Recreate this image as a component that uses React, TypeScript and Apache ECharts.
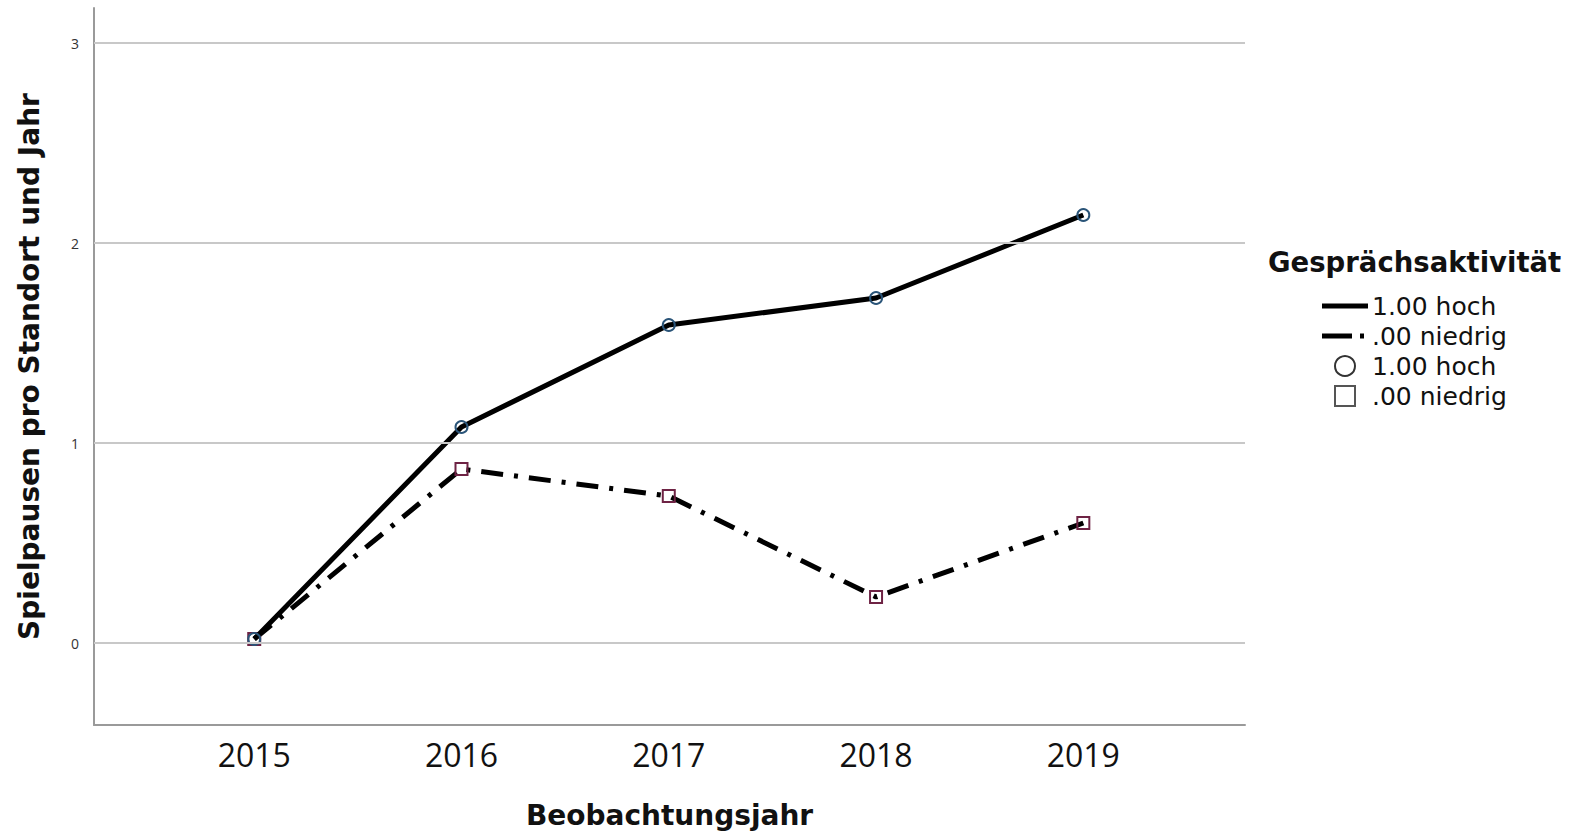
import React, { useEffect, useRef } from "react";
import * as echarts from "echarts";

const years = [2015, 2016, 2017, 2018, 2019];
const hochValues = [0.02, 1.08, 1.59, 1.725, 2.14];
const niedrigValues = [0.02, 0.87, 0.735, 0.23, 0.6];
const yTicks = [0, 1, 2, 3];
const seriesNames = ["1.00 hoch", ".00 niedrig"];
const legendTitle = "Gesprächsaktivität";
const xAxisTitle = "Beobachtungsjahr";
const yAxisTitle = "Spielpausen pro Standort und Jahr";

const FONT = "'Open Sans', 'DejaVu Sans', sans-serif";
const WIDE = "'DejaVu Sans', 'Open Sans', sans-serif";
const DASH_DOT = [22, 11, 4, 11];

export default function App() {
  const ref = useRef<HTMLDivElement>(null);

  useEffect(() => {
    if (!ref.current) return;
    const chart = echarts.init(ref.current, undefined, { renderer: "svg" });

    const legendX = 1322;
    const legendTextX = 1372;
    const rowY = [306, 336, 366, 396];

    const option: any = {
      animation: false,
      backgroundColor: "#ffffff",
      textStyle: { fontFamily: FONT },
      grid: { left: 94, right: 325, top: 8, bottom: 109, containLabel: false },
      xAxis: {
        type: "value",
        min: 2014.227,
        max: 2019.78,
        name: xAxisTitle,
        nameLocation: "middle",
        nameGap: 76,
        nameTextStyle: { fontFamily: WIDE, fontSize: 28, fontWeight: "bold", color: "#111" },
        axisLine: { show: true, onZero: false, lineStyle: { color: "#9a9a9a", width: 2 } },
        axisTick: { show: false },
        splitLine: { show: false },
        axisLabel: {
          customValues: years,
          formatter: (v: number) => String(v),
          fontFamily: FONT,
          fontSize: 32,
          color: "#111",
          margin: 13,
        },
      },
      yAxis: {
        type: "value",
        min: -0.41,
        max: 3.175,
        name: yAxisTitle,
        nameLocation: "middle",
        nameGap: 51,
        nameTextStyle: { fontFamily: WIDE, fontSize: 28, fontWeight: "bold", color: "#111" },
        axisLine: { show: true, onZero: false, lineStyle: { color: "#9a9a9a", width: 2 } },
        axisTick: { show: false },
        splitLine: { show: false },
        axisLabel: {
          customValues: yTicks,
          formatter: (v: number) => String(v),
          fontFamily: FONT,
          fontSize: 14,
          color: "#333",
          margin: 15,
        },
      },
      series: [
        {
          name: "grid",
          type: "line",
          data: [],
          silent: true,
          markLine: {
            silent: true,
            symbol: "none",
            label: { show: false },
            lineStyle: { color: "#c8c8c8", width: 2, type: "solid" },
            data: yTicks.map((t) => ({ yAxis: t })),
          },
        },
        {
          name: seriesNames[0],
          type: "line",
          data: years.map((y, i) => [y, hochValues[i]]),
          lineStyle: { color: "#000", width: 5 },
          symbol: "circle",
          symbolSize: 12,
          itemStyle: { color: "rgba(255,255,255,0)", borderColor: "#2a5478", borderWidth: 2 },
          z: 3,
        },
        {
          name: seriesNames[1],
          type: "line",
          data: years.map((y, i) => [y, niedrigValues[i]]),
          lineStyle: { color: "#000", width: 5, type: DASH_DOT },
          symbol: "rect",
          symbolSize: 12,
          itemStyle: { color: "rgba(255,255,255,0)", borderColor: "#6e2344", borderWidth: 2 },
          z: 2,
        },
      ],
      graphic: [
        {
          type: "text",
          left: 1268,
          top: 248,
          style: { text: legendTitle, fontFamily: WIDE, fontSize: 27.5, fontWeight: "bold", fill: "#111" },
        },
        {
          type: "line",
          shape: { x1: legendX, y1: rowY[0], x2: legendX + 46, y2: rowY[0] },
          style: { stroke: "#000", lineWidth: 5 },
        },
        {
          type: "line",
          shape: { x1: legendX, y1: rowY[1], x2: legendX + 46, y2: rowY[1] },
          style: { stroke: "#000", lineWidth: 5, lineDash: [30, 8, 4, 8] },
        },
        {
          type: "circle",
          shape: { cx: legendX + 23, cy: rowY[2], r: 10 },
          style: { fill: "none", stroke: "#333", lineWidth: 2 },
        },
        {
          type: "rect",
          shape: { x: legendX + 13, y: rowY[3] - 10, width: 20, height: 20 },
          style: { fill: "none", stroke: "#555", lineWidth: 2 },
        },
        ...[seriesNames[0], seriesNames[1], seriesNames[0], seriesNames[1]].map((t, i) => ({
          type: "text",
          x: legendTextX,
          y: rowY[i],
          style: {
            text: t,
            fontFamily: WIDE,
            fontSize: 25,
            fill: "#111",
            verticalAlign: "middle",
            align: "left",
          },
        })),
      ],
    };

    chart.setOption(option);
    return () => chart.dispose();
  }, []);

  return (
    <div
      ref={ref}
      style={{ position: "absolute", left: 0, top: 0, width: 1570, height: 834, background: "#fff" }}
    />
  );
}
